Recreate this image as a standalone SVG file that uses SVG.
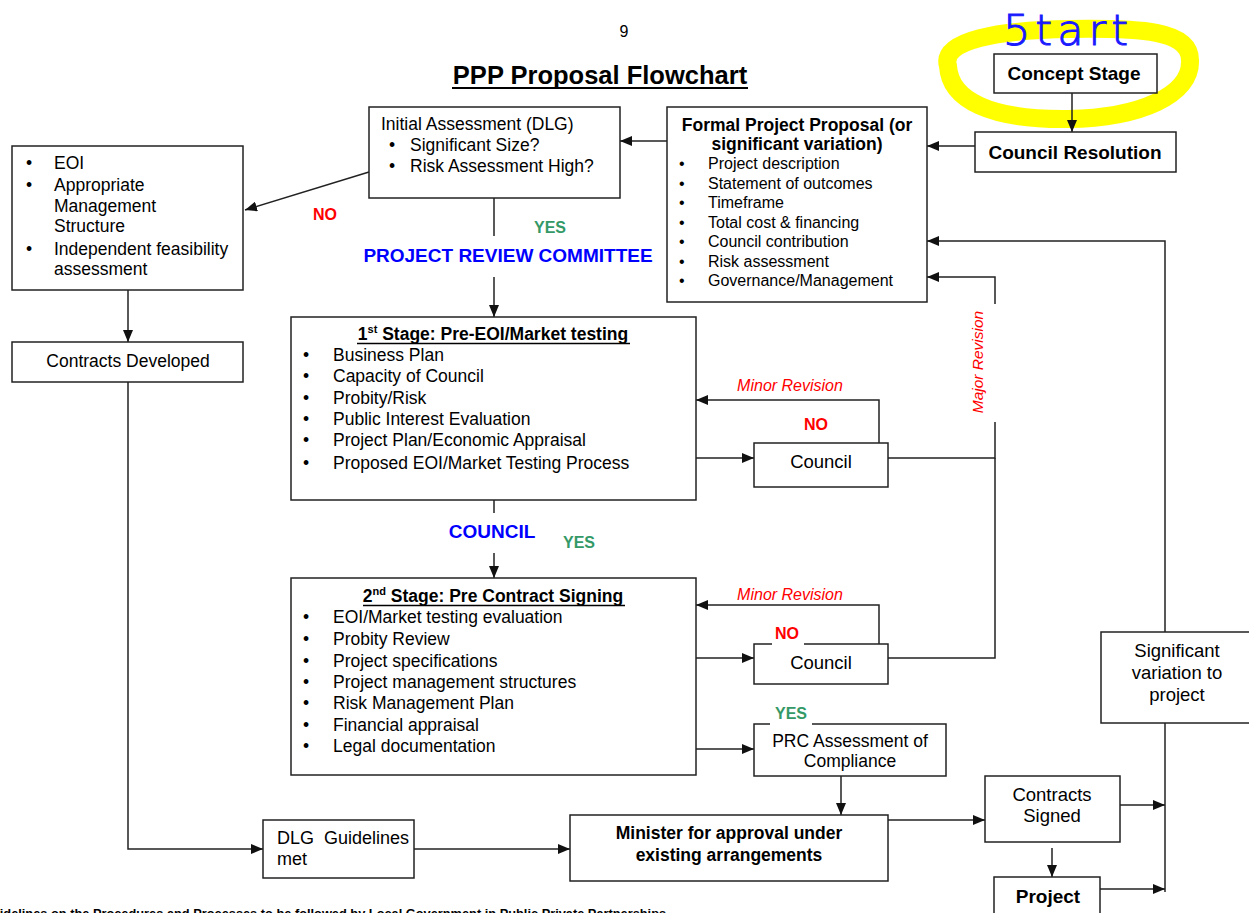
<svg xmlns="http://www.w3.org/2000/svg" width="1249" height="913" viewBox="0 0 1249 913">
<style>
.box{fill:#fff;stroke:#222;stroke-width:1.5}
.ln{fill:none;stroke:#222;stroke-width:1.5}
.t{font-family:"Liberation Sans",Arial,sans-serif;font-size:17.5px;fill:#000}
.s16{font-size:16px}
.b{font-weight:bold}
.c{text-anchor:middle}
.red{fill:#ff0000}
.grn{fill:#339966}
.blu{fill:#0000ff}
.it{font-style:italic}
</style>
<defs>
<marker id="ah" markerUnits="userSpaceOnUse" markerWidth="12" markerHeight="10" refX="12" refY="5" orient="auto">
<path d="M0,0 L12,5 L0,10 z" fill="#111"/>
</marker>
</defs>
<rect width="1249" height="913" fill="#fff"/>

<!-- header -->
<text class="t c" x="624" y="37" style="font-size:16px">9</text>
<text class="t b c" x="600" y="84" style="font-size:25.5px">PPP Proposal Flowchart</text>
<line x1="452" y1="88" x2="748" y2="88" stroke="#000" stroke-width="2"/>

<!-- highlight -->
<path d="M948 66 C940 40 1000 30 1070 29 C1140 28 1190 30 1190 60 C1192 95 1140 118 1068 119 C990 120 950 100 948 66 Z" fill="none" stroke="#ffff00" stroke-width="18"/>
<text class="t" x="1003" y="45" style="font-size:43px;letter-spacing:5px;fill:#1a1aff;stroke:#1a1aff;stroke-width:1;font-family:'DejaVu Sans',sans-serif;font-weight:200">5tart</text>

<g id="connectors">
<path class="ln" d="M1072 93 V132" marker-end="url(#ah)"/>
<path class="ln" d="M975 146 H927" marker-end="url(#ah)"/>
<path class="ln" d="M667 141 H620" marker-end="url(#ah)"/>
<path class="ln" d="M369 172 L245 210" marker-end="url(#ah)"/>
<path class="ln" d="M494 198 V236"/>
<path class="ln" d="M494 277 V317" marker-end="url(#ah)"/>
<path class="ln" d="M128 290 V342" marker-end="url(#ah)"/>
<path class="ln" d="M128 382 V849 H263" marker-end="url(#ah)"/>
<path class="ln" d="M696 458 H754" marker-end="url(#ah)"/>
<path class="ln" d="M879 443 V400 H696" marker-end="url(#ah)"/>
<path class="ln" d="M888 458 H995 V422"/>
<path class="ln" d="M995 304 V277 H927" marker-end="url(#ah)"/>
<path class="ln" d="M494 500 V513"/>
<path class="ln" d="M494 553 V578" marker-end="url(#ah)"/>
<path class="ln" d="M696 658 H754" marker-end="url(#ah)"/>
<path class="ln" d="M879 644 V605 H696" marker-end="url(#ah)"/>
<path class="ln" d="M888 658 H995 V458"/>
<path class="ln" d="M696 749 H754" marker-end="url(#ah)"/>
<path class="ln" d="M841 776 V815" marker-end="url(#ah)"/>
<path class="ln" d="M414 849 H570" marker-end="url(#ah)"/>
<path class="ln" d="M888 820 H985" marker-end="url(#ah)"/>
<path class="ln" d="M1052 848 V877" marker-end="url(#ah)"/>
<path class="ln" d="M1120 805 H1165" marker-end="url(#ah)"/>
<path class="ln" d="M1100 889 H1165" marker-end="url(#ah)"/>
<path class="ln" d="M1165 632 V241 H927" marker-end="url(#ah)"/>
<path class="ln" d="M1165 723 V892"/>
</g>

<!-- labels -->
<text class="t b red c s16" x="325" y="220">NO</text>
<text class="t b grn c s16" x="550" y="233">YES</text>
<text class="t b blu c" x="508" y="262" style="font-size:19px">PROJECT REVIEW COMMITTEE</text>
<text class="t it red c s16" x="790" y="391">Minor Revision</text>
<text class="t b red c s16" x="816" y="430">NO</text>
<text class="t it red c" x="983" y="362" transform="rotate(-90 983 362)" style="font-size:15.5px">Major Revision</text>
<text class="t b blu c" x="492" y="538" style="font-size:19px">COUNCIL</text>
<text class="t b grn c s16" x="579" y="548">YES</text>
<text class="t it red c s16" x="790" y="600">Minor Revision</text>

<g id="concept">
<rect class="box" x="994" y="54" width="163" height="39"/>
<text class="t b c" x="1074" y="80" style="font-size:19px">Concept Stage</text>
</g>

<g id="council-resolution">
<rect class="box" x="975" y="132" width="201" height="40"/>
<text class="t b c" x="1075" y="159" style="font-size:19px">Council Resolution</text>
</g>

<g id="formal-proposal">
<rect class="box" x="667" y="107" width="260" height="195"/>
<text class="t b c" x="797" y="131">Formal Project Proposal (or</text>
<text class="t b c" x="797" y="150">significant variation)</text>
<g class="t s16">
<text x="679" y="169">•</text><text x="708" y="169">Project description</text>
<text x="679" y="189">•</text><text x="708" y="189">Statement of outcomes</text>
<text x="679" y="208">•</text><text x="708" y="208">Timeframe</text>
<text x="679" y="228">•</text><text x="708" y="228">Total cost &amp; financing</text>
<text x="679" y="247">•</text><text x="708" y="247">Council contribution</text>
<text x="679" y="267">•</text><text x="708" y="267">Risk assessment</text>
<text x="679" y="286">•</text><text x="708" y="286">Governance/Management</text>
</g>
</g>

<g id="initial-assessment">
<rect class="box" x="369" y="107" width="251" height="91"/>
<g class="t">
<text x="381" y="130">Initial Assessment (DLG)</text>
<text x="389" y="151">•</text><text x="410" y="151">Significant Size?</text>
<text x="389" y="172">•</text><text x="410" y="172">Risk Assessment High?</text>
</g>
</g>

<g id="eoi">
<rect class="box" x="12" y="146" width="231" height="144"/>
<g class="t">
<text x="26" y="169">•</text><text x="54" y="169">EOI</text>
<text x="26" y="191">•</text><text x="54" y="191">Appropriate</text>
<text x="54" y="212">Management</text>
<text x="54" y="232">Structure</text>
<text x="26" y="255">•</text><text x="54" y="255">Independent feasibility</text>
<text x="54" y="275">assessment</text>
</g>
</g>

<g id="contracts-developed">
<rect class="box" x="12" y="342" width="231" height="40"/>
<text class="t c" x="128" y="367">Contracts Developed</text>
</g>

<g id="stage1">
<rect class="box" x="291" y="317" width="405" height="183"/>
<text class="t b c" x="493" y="340">1<tspan style="font-size:11px" dy="-7">st</tspan><tspan dy="7"> Stage: Pre-EOI/Market testing</tspan></text>
<line x1="357" y1="343.5" x2="630" y2="343.5" stroke="#000" stroke-width="1.5"/>
<g class="t">
<text x="303" y="361">•</text><text x="333" y="361">Business Plan</text>
<text x="303" y="382">•</text><text x="333" y="382">Capacity of Council</text>
<text x="303" y="404">•</text><text x="333" y="404">Probity/Risk</text>
<text x="303" y="425">•</text><text x="333" y="425">Public Interest Evaluation</text>
<text x="303" y="446">•</text><text x="333" y="446">Project Plan/Economic Appraisal</text>
<text x="303" y="469">•</text><text x="333" y="469">Proposed EOI/Market Testing Process</text>
</g>
</g>

<g id="council1">
<rect class="box" x="754" y="443" width="134" height="44"/>
<text class="t c" x="821" y="468" style="font-size:18.5px">Council</text>
</g>

<g id="stage2">
<rect class="box" x="291" y="578" width="405" height="197"/>
<text class="t b c" x="493" y="602">2<tspan style="font-size:11px" dy="-7">nd</tspan><tspan dy="7"> Stage: Pre Contract Signing</tspan></text>
<line x1="363" y1="605.5" x2="625" y2="605.5" stroke="#000" stroke-width="1.5"/>
<g class="t">
<text x="303" y="623">•</text><text x="333" y="623">EOI/Market testing evaluation</text>
<text x="303" y="645">•</text><text x="333" y="645">Probity Review</text>
<text x="303" y="667">•</text><text x="333" y="667">Project specifications</text>
<text x="303" y="688">•</text><text x="333" y="688">Project management structures</text>
<text x="303" y="709">•</text><text x="333" y="709">Risk Management Plan</text>
<text x="303" y="731">•</text><text x="333" y="731">Financial appraisal</text>
<text x="303" y="752">•</text><text x="333" y="752">Legal documentation</text>
</g>
</g>

<g id="council2">
<rect class="box" x="754" y="644" width="134" height="40"/>
<rect x="772" y="640" width="32" height="8" fill="#fff"/>
<text class="t b red c s16" x="787" y="639">NO</text>
<text class="t c" x="821" y="669" style="font-size:18.5px">Council</text>
</g>

<g id="prc">
<rect class="box" x="754" y="724" width="192" height="52"/>
<rect x="770" y="720" width="42" height="8" fill="#fff"/>
<text class="t b grn c s16" x="791" y="719">YES</text>
<text class="t c" x="850" y="747">PRC Assessment of</text>
<text class="t c" x="850" y="767">Compliance</text>
</g>

<g id="significant-variation">
<rect class="box" x="1101" y="632" width="160" height="91"/>
<text class="t c" x="1177" y="657" style="font-size:18.5px">Significant</text>
<text class="t c" x="1177" y="679" style="font-size:18.5px">variation to</text>
<text class="t c" x="1177" y="701" style="font-size:18.5px">project</text>
</g>

<g id="dlg-guidelines">
<rect class="box" x="263" y="820" width="151" height="58"/>
<text class="t" x="277" y="844" style="font-size:18px">DLG&#160; Guidelines</text>
<text class="t" x="277" y="865" style="font-size:18px">met</text>
</g>

<g id="minister">
<rect class="box" x="570" y="815" width="318" height="66"/>
<text class="t b c" x="729" y="839">Minister for approval under</text>
<text class="t b c" x="729" y="861">existing arrangements</text>
</g>

<g id="contracts-signed">
<rect class="box" x="985" y="776" width="135" height="66"/>
<text class="t c" x="1052" y="801" style="font-size:18.5px">Contracts</text>
<text class="t c" x="1052" y="822" style="font-size:18.5px">Signed</text>
</g>

<g id="project">
<rect class="box" x="994" y="877" width="106" height="50"/>
<text class="t b c" x="1048" y="903" style="font-size:19px">Project</text>
</g>

<text class="t b" x="-18" y="918" style="font-size:12.8px">Guidelines on the Procedures and Processes to be followed by Local Government in Public Private Partnerships</text>
</svg>
